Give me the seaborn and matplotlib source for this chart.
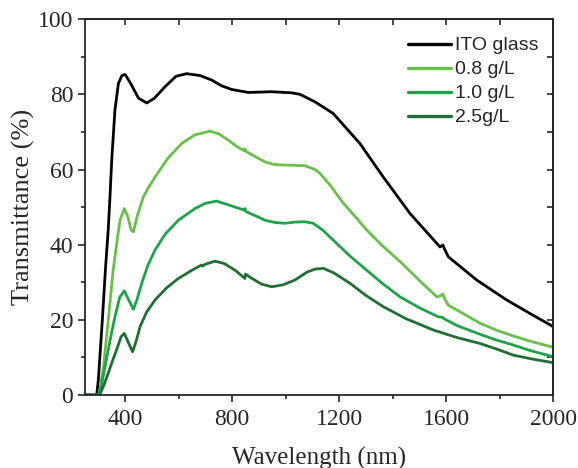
import matplotlib
matplotlib.use("Agg")
import matplotlib.pyplot as plt
import seaborn as sns
import pandas as pd
from matplotlib.ticker import MultipleLocator

series_names = ["ITO glass", "0.8 g/L", "1.0 g/L", "2.5g/L"]
colors = ["#000000", "#6abf4b", "#1ea34a", "#216e35"]

ito_wl = [250, 294, 300, 315, 327, 337, 343, 350, 362, 375, 388, 400, 420, 450, 481, 510, 549, 590, 630, 680,
          724, 760, 798, 861, 948, 1023, 1054, 1110, 1178, 1278, 1365, 1465, 1577, 1588, 1593, 1608, 1714, 1826,
          1913, 2000]
ito_t = [0, 0, 4, 20, 34, 44, 52, 62.5, 75.8, 82.9, 85, 85.3, 83, 79, 77.7, 79, 82, 84.8, 85.5, 85,
         83.8, 82.3, 81.3, 80.5, 80.7, 80.4, 80, 78, 74.9, 66.9, 58, 48.3, 39.4, 39.9, 39.0, 36.8, 30.6, 25.3,
         21.7, 18.2]

g08_wl = [250, 303, 320, 340, 355, 368, 381, 397, 410, 422, 431, 445, 468, 490, 512, 560, 611, 660, 717, 750,
          786, 820, 845, 848, 852, 885, 923, 960, 998, 1040, 1072, 1110, 1128, 1170, 1216, 1260, 1303, 1365, 1428,
          1500, 1565, 1580, 1587, 1595, 1608, 1660, 1727, 1790, 1851, 1920, 2000]
g08_t = [0, 0, 8, 22, 33, 40, 46.5, 49.6, 47.5, 44, 43.4, 47.5, 52.7, 55.5, 58, 63, 66.9, 69.2, 70.2, 69.5,
         67.8, 66, 65, 65.5, 64.8, 63.5, 62, 61.3, 61.2, 61.1, 61, 60, 59, 55.5, 51, 47.5, 43.9, 39.5, 35.5,
         30.5, 26.1, 26.4, 26.9, 25.5, 23.9, 21.8, 19.1, 17.2, 15.7, 14.2, 12.7]

g10_wl = [250, 300, 310, 325, 345, 362, 380, 397, 412, 431, 445, 462, 485, 512, 550, 599, 661, 700, 742, 790,
          845, 848, 852, 890, 923, 960, 998, 1035, 1072, 1103, 1140, 1178, 1240, 1303, 1365, 1428, 1500, 1571,
          1585, 1592, 1640, 1702, 1780, 1851, 1920, 2000]
g10_t = [0, 0, 2, 7.5, 15, 20.8, 26, 27.7, 25.5, 22.8, 25.5, 29.7, 34.5, 38.6, 42.8, 46.5, 49.6, 51, 51.6, 50.5,
         49.2, 49.6, 48.8, 47.6, 46.5, 45.9, 45.7, 46, 46.1, 45.7, 43.8, 41.2, 37, 33.2, 29.5, 26.1, 23.2, 20.8,
         20.7, 20.3, 18.5, 16.8, 14.8, 13.3, 11.7, 10.2]

g25_wl = [250, 305, 320, 337, 355, 368, 385, 397, 412, 428, 442, 456, 480, 512, 555, 599, 650, 686, 690, 700,
          736, 770, 811, 840, 848, 850, 870, 910, 948, 990, 1035, 1080, 1110, 1141, 1180, 1241, 1300, 1365, 1450,
          1552, 1640, 1727, 1790, 1851, 1920, 2000]
g25_t = [0, 0, 2.5, 5.8, 9.5, 12, 15.5, 16.4, 14, 11.5, 14.5, 18.2, 22, 25.3, 28.5, 31, 33.2, 34.6, 34.3, 34.8,
         35.6, 35, 33.2, 31.5, 31, 32.2, 31.2, 29.5, 28.8, 29.3, 30.6, 32.7, 33.5, 33.7, 32.5, 29.7, 26.5, 23.5,
         20.3, 17.3, 15.3, 13.7, 12.2, 10.6, 9.6, 8.6]

x_ticks = [400, 800, 1200, 1600, 2000]
y_ticks = [0, 20, 40, 60, 80, 100]

frames = []
for name, wl, t in zip(series_names, [ito_wl, g08_wl, g10_wl, g25_wl], [ito_t, g08_t, g10_t, g25_t]):
    frames.append(pd.DataFrame({"Wavelength": wl, "T": t, "Sample": name}))
df = pd.concat(frames, ignore_index=True)

sns.set_style("ticks")
plt.rcParams["font.family"] = ["Liberation Serif", "DejaVu Serif"]

fig = plt.figure(figsize=(5.78, 4.68), dpi=100)
ax = fig.add_axes([0.147, 0.156, 0.81, 0.803])

sns.lineplot(data=df, x="Wavelength", y="T", hue="Sample", hue_order=series_names,
             palette=colors, estimator=None, sort=False, linewidth=2.0, ax=ax, legend=True)

ax.set_xlim(250, 2000)
ax.set_ylim(0, 100)
ax.set_xticks(x_ticks)
ax.set_yticks(y_ticks)
ax.xaxis.set_minor_locator(MultipleLocator(200))
ax.yaxis.set_minor_locator(MultipleLocator(10))
ax.tick_params(axis="both", which="major", direction="out", length=5, width=1.2, labelsize=17,
               top=False, right=False)
ax.tick_params(axis="x", which="major", pad=5)
ax.tick_params(axis="both", which="minor", direction="out", length=3, width=1.2, top=False, right=False)

# inward ticks on top and right (no labels)
ax2 = ax.secondary_xaxis("top")
ax2.set_xticks([600, 1000, 1400, 1800] + x_ticks)
ax2.tick_params(direction="in", length=4, width=1.2, labeltop=False)
ax2.set_xticklabels([])
ay2 = ax.secondary_yaxis("right")
ay2.set_yticks(list(range(10, 100, 10)))
ay2.tick_params(direction="in", length=4, width=1.2, labelright=False)
ay2.set_yticklabels([])

for s in ax.spines.values():
    s.set_linewidth(1.3)
ax2.spines["top"].set_linewidth(1.3)
ay2.spines["right"].set_linewidth(1.3)

ax.set_xlabel("Wavelength (nm)", fontsize=18, labelpad=12)
ax.set_ylabel("Transmittance (%)", fontsize=19, labelpad=2)

leg = ax.legend(loc="upper right", frameon=False, prop={"family": "Liberation Sans", "size": 14},
                handlelength=2.2, handletextpad=0.2, labelspacing=0.33, borderaxespad=0.0,
                bbox_to_anchor=(0.985, 0.974))
for line in leg.get_lines():
    line.set_linewidth(2.4)

fig.savefig("out.png", dpi=100)
